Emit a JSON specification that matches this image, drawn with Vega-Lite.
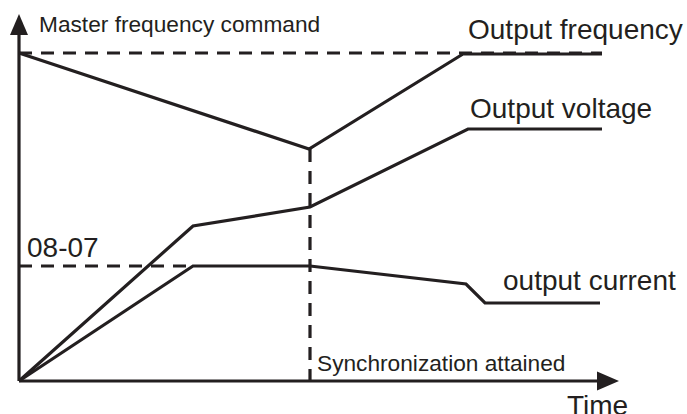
{
  "$schema": "https://vega.github.io/schema/vega-lite/v6.json",
  "width": 687,
  "height": 414,
  "autosize": {"type": "none"},
  "padding": 0,
  "background": "white",
  "config": {"view": {"stroke": null}},
  "datasets": {
    "axes": [
      {"axis": "y", "t": 0, "v": 0, "i": 0},
      {"axis": "y", "t": 0, "v": 346, "i": 1},
      {"axis": "x", "t": 0, "v": 0, "i": 0},
      {"axis": "x", "t": 578, "v": 0, "i": 1}
    ],
    "solid": [
      {"series": "Output frequency", "t": 0, "v": 328, "i": 0},
      {"series": "Output frequency", "t": 290, "v": 232, "i": 1},
      {"series": "Output frequency", "t": 444, "v": 327, "i": 2},
      {"series": "Output frequency", "t": 583, "v": 327, "i": 3},
      {"series": "Output voltage", "t": 0, "v": 0, "i": 0},
      {"series": "Output voltage", "t": 174, "v": 155, "i": 1},
      {"series": "Output voltage", "t": 291, "v": 174, "i": 2},
      {"series": "Output voltage", "t": 449, "v": 252, "i": 3},
      {"series": "Output voltage", "t": 583, "v": 252, "i": 4},
      {"series": "output current", "t": 0, "v": 0, "i": 0},
      {"series": "output current", "t": 174, "v": 115, "i": 1},
      {"series": "output current", "t": 291, "v": 115, "i": 2},
      {"series": "output current", "t": 447, "v": 97, "i": 3},
      {"series": "output current", "t": 466, "v": 78, "i": 4},
      {"series": "output current", "t": 581, "v": 78, "i": 5}
    ],
    "dashed": [
      {"series": "Master frequency command", "t": 0, "v": 328, "i": 0},
      {"series": "Master frequency command", "t": 583, "v": 328, "i": 1},
      {"series": "08-07", "t": 0, "v": 115, "i": 0},
      {"series": "08-07", "t": 174, "v": 115, "i": 1},
      {"series": "Synchronization attained", "t": 291, "v": 232, "i": 0},
      {"series": "Synchronization attained", "t": 291, "v": 0, "i": 1}
    ],
    "arrowY": [{"t": 0, "v": 356.5}],
    "arrowX": [{"t": 589, "v": 0}],
    "labelsLarge": [
      {"label": "Output frequency", "t": 449, "v": 342},
      {"label": "Output voltage", "t": 451, "v": 263},
      {"label": "output current", "t": 484, "v": 91},
      {"label": "08-07", "t": 8, "v": 124},
      {"label": "Time", "t": 548, "v": -34}
    ],
    "labelsSmall": [
      {"label": "Master frequency command", "t": 20, "v": 349},
      {"label": "Synchronization attained", "t": 298, "v": 10}
    ]
  },
  "encoding": {
    "x": {"field": "t", "type": "quantitative", "scale": {"domain": [-19, 668], "nice": false, "zero": false}, "axis": null},
    "y": {"field": "v", "type": "quantitative", "scale": {"domain": [-33, 381], "nice": false, "zero": false}, "axis": null}
  },
  "layer": [
    {
      "data": {"name": "dashed"},
      "mark": {"type": "line", "color": "#231f20", "strokeWidth": 3.2, "strokeDash": [13, 9], "strokeCap": "butt"},
      "encoding": {"detail": {"field": "series"}, "order": {"field": "i", "type": "quantitative"}}
    },
    {
      "data": {"name": "axes"},
      "mark": {"type": "line", "color": "#231f20", "strokeWidth": 3.2, "strokeCap": "butt"},
      "encoding": {"detail": {"field": "axis"}, "order": {"field": "i", "type": "quantitative"}}
    },
    {
      "data": {"name": "solid"},
      "mark": {"type": "line", "color": "#231f20", "strokeWidth": 3.2, "strokeJoin": "miter"},
      "encoding": {"detail": {"field": "series"}, "order": {"field": "i", "type": "quantitative"}}
    },
    {
      "data": {"name": "arrowY"},
      "mark": {"type": "point", "shape": "M0,-1L-0.857,1L0.857,1Z", "size": 441, "filled": true, "color": "#231f20", "opacity": 1, "strokeWidth": 0}
    },
    {
      "data": {"name": "arrowX"},
      "mark": {"type": "point", "shape": "M1,0L-1,-0.86L-1,0.86Z", "size": 484, "filled": true, "color": "#231f20", "opacity": 1, "strokeWidth": 0}
    },
    {
      "data": {"name": "labelsLarge"},
      "mark": {"type": "text", "align": "left", "baseline": "alphabetic", "font": "Liberation Sans", "fontSize": 28, "color": "#231f20"},
      "encoding": {"text": {"field": "label"}}
    },
    {
      "data": {"name": "labelsSmall"},
      "mark": {"type": "text", "align": "left", "baseline": "alphabetic", "font": "Liberation Sans", "fontSize": 22.7, "color": "#231f20"},
      "encoding": {"text": {"field": "label"}}
    }
  ]
}
